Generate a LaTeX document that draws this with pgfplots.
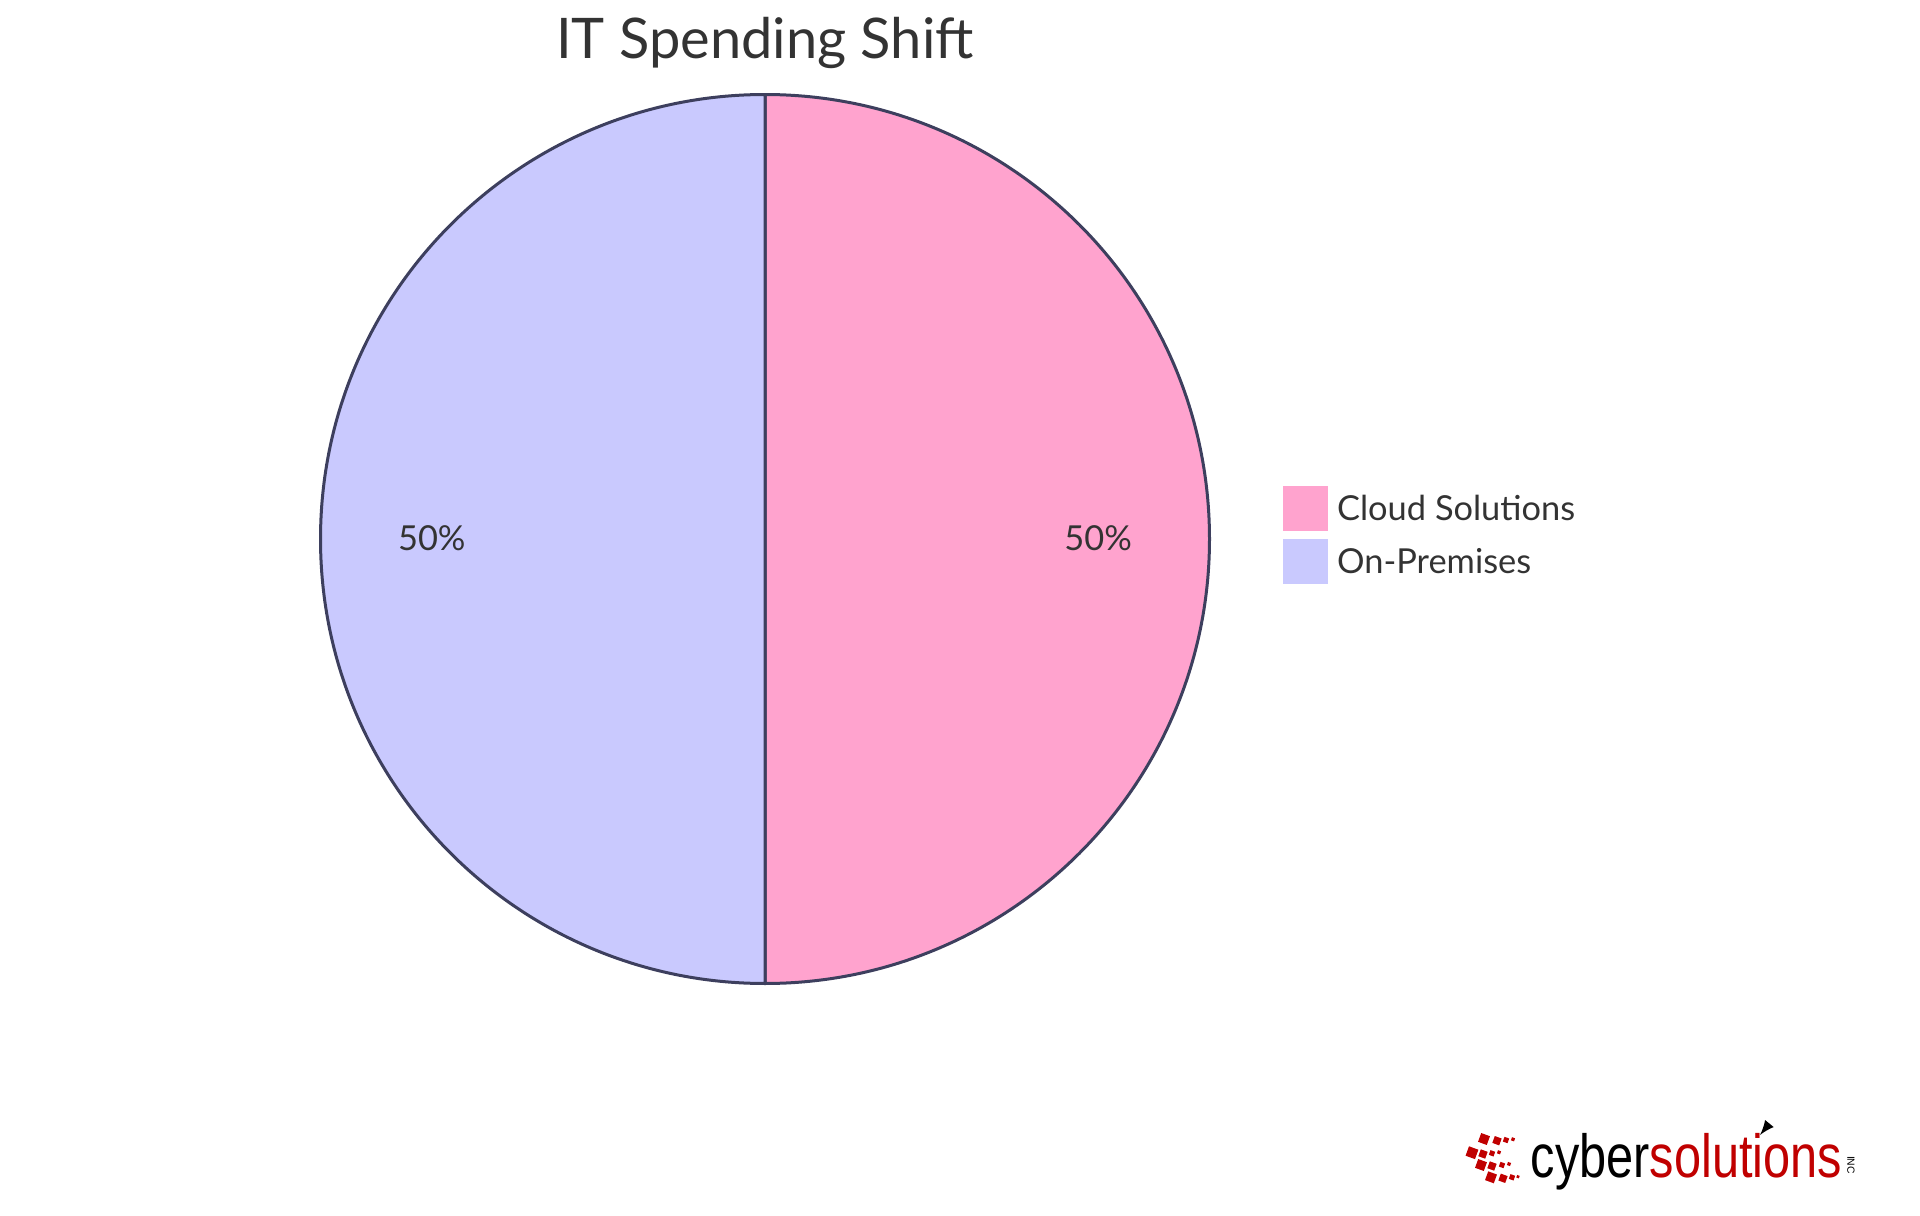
\documentclass[border=0pt]{standalone}
\usepackage{pgfplots}
\pgfplotsset{compat=1.18}
\usepackage{pgfplotstable}
\usepackage{graphicx}
\usetikzlibrary{calc}
\usepackage{fontspec}
\setmainfont{Lato}
\newfontfamily\logofont{Liberation Sans}
\definecolor{cloud}{HTML}{FFA3CE}
\definecolor{onprem}{HTML}{C9C9FE}
\definecolor{edge}{HTML}{3D3F5E}
\definecolor{txt}{HTML}{333333}
\definecolor{logored}{HTML}{C00000}
\pgfplotstableread{
label value
Cloud 50
OnPrem 50
}\piedata
\begin{document}
\begin{tikzpicture}
\useasboundingbox (0,0) rectangle (480pt,303.75pt);
\pgfplotstablegetelem{0}{value}\of\piedata \let\valA\pgfplotsretval
\pgfplotstablegetelem{1}{value}\of\piedata \let\valB\pgfplotsretval
\pgfmathsetmacro{\tot}{\valA+\valB}
\pgfmathsetmacro{\angA}{90-360*(\valA/\tot)}
\pgfmathsetmacro{\angB}{\angA-360*(\valB/\tot)}
\pgfmathsetmacro{\midA}{(90+\angA)/2}
\pgfmathsetmacro{\midB}{(\angA+\angB)/2}
\begin{axis}[x=0.25pt,y=0.25pt,xmin=0,xmax=1920,ymin=0,ymax=1215,
  hide axis,scale only axis,clip=false,anchor=origin,at={(0,0)}]
\filldraw[fill=cloud,draw=edge,line width=0.75pt,line join=round]
  (axis cs:765,676) -- ++(90:111.125pt) arc[start angle=90,end angle=\angA,radius=111.125pt] -- cycle;
\filldraw[fill=onprem,draw=edge,line width=0.75pt,line join=round]
  (axis cs:765,676) -- ++(\angA:111.125pt) arc[start angle=\angA,end angle=\angB,radius=111.125pt] -- cycle;
\node[txt,font=\fontsize{8.6}{10}\selectfont] at ($(axis cs:765,677)+(\midA:83.3pt)$) {\pgfmathprintnumber[assume math mode=true]{\valA}\%};
\node[txt,font=\fontsize{8.6}{10}\selectfont] at ($(axis cs:765,677)+(\midB:83.3pt)$) {\pgfmathprintnumber[assume math mode=true]{\valB}\%};
\end{axis}
\begin{scope}[x=0.25pt,y=0.25pt]
% title
\node[txt,font=\fontsize{14}{16}\selectfont] at (765,1172) {IT Spending Shift};
% legend
\fill[cloud] (1283,729) rectangle (1328,684);
\fill[onprem] (1283,676) rectangle (1328,631);
\node[txt,anchor=west,font=\fontsize{8.6}{10}\selectfont] at (1323,707) {Cloud Solutions};
\node[txt,anchor=west,font=\fontsize{8.6}{10}\selectfont] at (1323,654) {On-Premises};
% logo
\foreach \px/\py/\s in {1484/76/9.3,1497/74.3/7.3,1506/75/5,1513/75.7/3.3,
  1472/62.3/10,1483/61/7.3,1492/61.7/5,1499/62.7/3.3,
  1481/50/9.3,1492/49/7.3,1502/50/5,1509/51/3.3,
  1491/37.7/9.3,1503/36.7/7.3,1512/37.7/5,1518/38.3/2.7}{
  \fill[logored,rotate around={-20:(\px,\py)}] (\px-\s/2,\py-\s/2) rectangle (\px+\s/2,\py+\s/2);
}
\node[anchor=base west,inner sep=0pt] at (1530,38) {\scalebox{0.84}[1.05]{\logofont\fontsize{14.5}{16}\selectfont\textcolor{black}{cyber}\textcolor{logored}{solutions}}};
\node[rotate=-90,inner sep=0pt,font=\logofont\fontsize{2.6}{3}\selectfont] at (1851,50) {INC};
\draw[-latex,line width=0.3pt] (1769,91) -- (1760,80);
\end{scope}
\end{tikzpicture}
\end{document}
